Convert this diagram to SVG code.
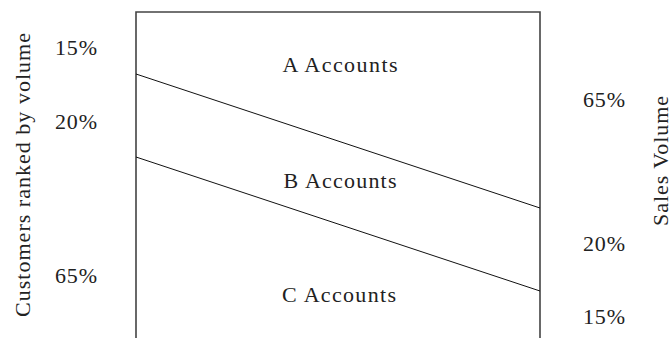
<svg xmlns="http://www.w3.org/2000/svg" width="672" height="338" viewBox="0 0 672 338">
<style>
text{font-family:"Liberation Serif","Times New Roman",serif;font-size:22px;fill:#222}
.mid{text-anchor:middle}
.frame{fill:none;stroke:#444;stroke-width:1.6}
.div{fill:none;stroke:#111;stroke-width:1}
</style>
<rect width="672" height="338" fill="#fff"/>
<g id="frame"><path class="frame" d="M136,338 V12 H540 V338"/></g>
<g id="connectors">
<line class="div" x1="136" y1="74" x2="540" y2="208"/>
<line class="div" x1="136" y1="157" x2="540" y2="291"/>
</g>
<g id="region-a"><text class="mid" x="340" y="72" textLength="115" lengthAdjust="spacing">A Accounts</text></g>
<g id="region-b"><text class="mid" x="340" y="188" textLength="113" lengthAdjust="spacing">B Accounts</text></g>
<g id="region-c"><text class="mid" x="339" y="302" textLength="114" lengthAdjust="spacing">C Accounts</text></g>
<g id="left-axis">
<text transform="translate(30,175) rotate(-90)" class="mid" textLength="284" lengthAdjust="spacing">Customers ranked by volume</text>
<text x="55" y="55" textLength="42" lengthAdjust="spacing">15%</text>
<text x="55" y="129" textLength="42" lengthAdjust="spacing">20%</text>
<text x="55" y="283" textLength="42" lengthAdjust="spacing">65%</text>
</g>
<g id="right-axis">
<text transform="translate(668,161) rotate(-90)" class="mid" textLength="130" lengthAdjust="spacing">Sales Volume</text>
<text x="583" y="107" textLength="42" lengthAdjust="spacing">65%</text>
<text x="583" y="251" textLength="42" lengthAdjust="spacing">20%</text>
<text x="583" y="324" textLength="42" lengthAdjust="spacing">15%</text>
</g>
</svg>
